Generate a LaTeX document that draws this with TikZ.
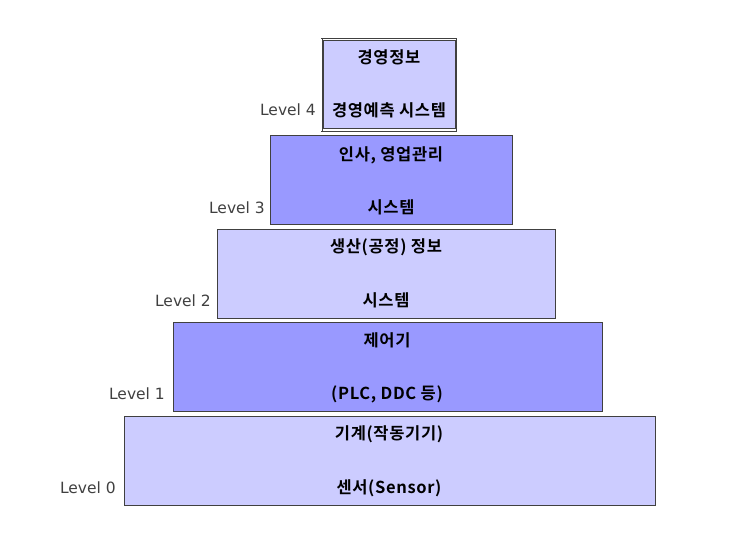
\documentclass[tikz,border=0pt]{standalone}
\usepackage{fontspec}
\newfontfamily\kr{Noto Sans CJK KR}[BoldFont={Noto Sans CJK KR Bold},LetterSpace=4]
\newfontfamily\lv{DejaVu Sans}
\definecolor{lightlav}{HTML}{CCCCFF}
\definecolor{darklav}{HTML}{9999FF}
\definecolor{edge}{HTML}{404040}
\begin{document}
\begin{tikzpicture}[x=1pt,y=-1pt,
  lvl/.style={draw=edge,line width=0.8pt,anchor=north west,inner sep=0pt,outer sep=0pt},
  txt/.style={font=\kr\bfseries\fontsize{16.5}{18}\selectfont,inner sep=0pt},
  lab/.style={font=\lv\fontsize{15.5}{17}\selectfont,anchor=east,inner sep=0pt,text=black!75}]
\useasboundingbox (0,0) rectangle (747,538);
% Level 4
\node[lvl,fill=lightlav,minimum width=132,minimum height=88] (b4) at (323.5,40.5) {};
\draw[edge,line width=0.8pt] (321,38) -- (457,38) (321,131) -- (457,131) (322,38) -- (322,131) (456,38) -- (456,131);
\node[txt] (t4a) at (389,57) {경영정보};
\node[txt] (t4b) at (389,110) {경영예측 시스템};
\node[lab] (l4) at (316,110) {Level 4};
% Level 3
\node[lvl,fill=darklav,minimum width=242,minimum height=89] (b3) at (270,135) {};
\node[txt] (t3a) at (391,155) {인사, 영업관리};
\node[txt] (t3b) at (391,207) {시스템};
\node[lab] (l3) at (265,208) {Level 3};
% Level 2
\node[lvl,fill=lightlav,minimum width=338,minimum height=89] (b2) at (217,229) {};
\node[txt] (t2a) at (386,247) {생산(공정) 정보};
\node[txt] (t2b) at (386,300) {시스템};
\node[lab] (l2) at (211,301) {Level 2};
% Level 1
\node[lvl,fill=darklav,minimum width=429,minimum height=89] (b1) at (173,322) {};
\node[txt] (t1a) at (387,340) {제어기};
\node[txt] (t1b) at (387,394) {(PLC, DDC 등)};
\node[lab] (l1) at (165,394) {Level 1};
% Level 0
\node[lvl,fill=lightlav,minimum width=531,minimum height=89] (b0) at (124,416) {};
\node[txt] (t0a) at (389,434) {기계(작동기기)};
\node[txt] (t0b) at (389,488) {센서(Sensor)};
\node[lab] (l0) at (116,488) {Level 0};
\end{tikzpicture}
\end{document}
